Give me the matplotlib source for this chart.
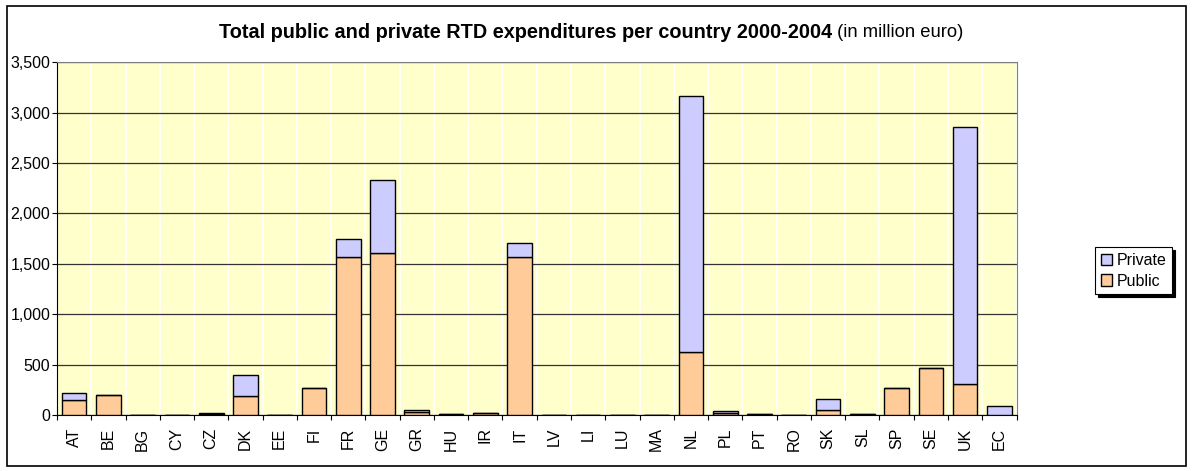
import numpy as np
import matplotlib.pyplot as plt
from matplotlib.patches import Rectangle

plt.rcParams['font.family'] = ['Liberation Sans', 'DejaVu Sans']

# Data (million euro)
countries = ['AT', 'BE', 'BG', 'CY', 'CZ', 'DK', 'EE', 'FI', 'FR', 'GE', 'GR', 'HU', 'IR', 'IT',
             'LV', 'LI', 'LU', 'MA', 'NL', 'PL', 'PT', 'RO', 'SK', 'SL', 'SP', 'SE', 'UK', 'EC']
public = [145, 200, 0, 0, 10, 185, 0, 265, 1570, 1610, 30, 10, 20, 1570,
          0, 0, 0, 0, 620, 20, 8, 0, 45, 8, 270, 470, 310, 0]
private = [75, 0, 0, 0, 5, 215, 0, 0, 180, 720, 15, 0, 0, 140,
           0, 0, 0, 0, 2540, 15, 0, 0, 115, 0, 0, 0, 2550, 85]

x = np.arange(len(countries))

fig = plt.figure(figsize=(11.92, 4.71), dpi=100)
fig.patches.append(Rectangle((0.006, 0.011), 0.989, 0.976, transform=fig.transFigure,
                             fill=False, edgecolor='black', linewidth=1.2))
ax = fig.add_axes([0.0478, 0.119, 0.805, 0.749])
ax.set_facecolor('#FFFFCC')

w = 0.72
ax.bar(x, public, w, color='#FFCC99', edgecolor='black', linewidth=1, label='Public', zorder=3)
ax.bar(x, private, w, bottom=public, color='#CCCCFF', edgecolor='black', linewidth=1,
       label='Private', zorder=3)

ax.set_xlim(-0.5, len(countries) - 0.5)
ax.set_ylim(0, 3500)
ax.set_yticks(np.arange(0, 3501, 500))
ax.set_yticklabels([f'{v:,}' for v in range(0, 3501, 500)], fontsize=11.5)
ax.yaxis.grid(True, color='#333333', linewidth=0.9, zorder=1)

# vertical white separators and ticks at category boundaries
ax.set_xticks(np.arange(-0.5, len(countries), 1))
ax.set_xticklabels([])
ax.set_xticks(x, minor=True)
ax.set_xticklabels(countries, minor=True, rotation=90, fontsize=11.5)
ax.tick_params(axis='x', which='major', length=3.6, direction='out')
ax.tick_params(axis='x', which='minor', length=0, pad=9)
ax.tick_params(axis='y', length=3.6, direction='out', pad=1.2)
ax.xaxis.grid(True, which='major', color='white', linewidth=1.2, zorder=1)
ax.set_axisbelow(True)

for s in ['top', 'right']:
    ax.spines[s].set_color('#808080')
ax.spines['left'].set_color('black')
ax.spines['bottom'].set_color('black')

handles, labels = ax.get_legend_handles_labels()
leg = fig.legend(handles[::-1], labels[::-1], loc='center', bbox_to_anchor=(0.951, 0.425),
                 fancybox=False, shadow={'color': 'black', 'alpha': 1}, edgecolor='black',
                 fontsize=11.5, handlelength=0.7, handleheight=0.7, handletextpad=0.3,
                 borderpad=0.35, labelspacing=0.35, borderaxespad=0, framealpha=1)
leg.get_frame().set_linewidth(0.8)

fig.text(0.698, 0.930, 'Total public and private RTD expenditures per country 2000-2004',
         fontsize=14.3, fontweight='bold', ha='right', va='center')
fig.text(0.698, 0.930, ' (in million euro)', fontsize=13.2, ha='left', va='center')

fig.savefig('out.png', dpi=100)
